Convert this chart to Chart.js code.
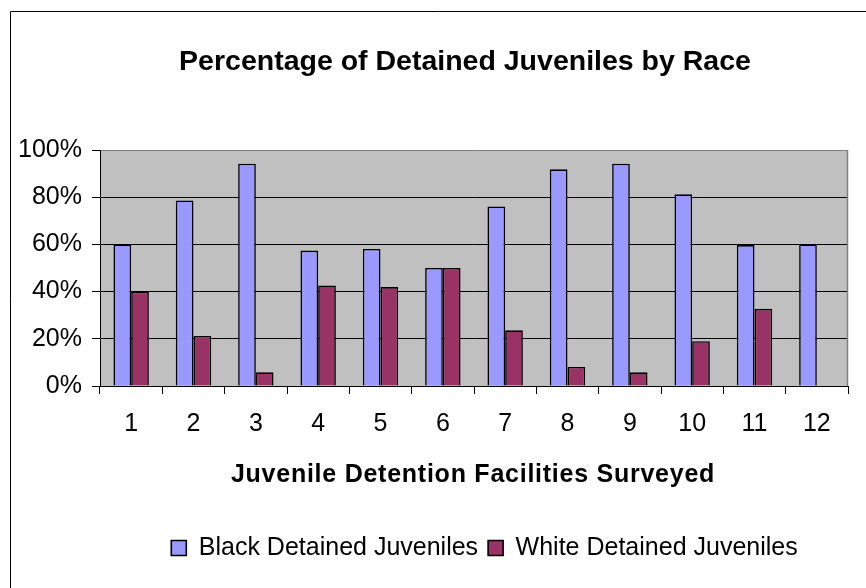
<!DOCTYPE html>
<html>
<head>
<meta charset="utf-8">
<script src="https://cdn.jsdelivr.net/npm/chart.js@4/dist/chart.umd.min.js"></script>
<style>
html,body{margin:0;padding:0;background:#fff;overflow:hidden}
#wrap{width:866px;height:588px;position:relative}
</style>
</head>
<body>
<div id="wrap"><canvas id="c" width="866" height="588"></canvas></div>
<script>
const categories = ['1','2','3','4','5','6','7','8','9','10','11','12'];
const blackValues = [60, 78.6, 94.2, 57.4, 58.1, 50, 76.1, 91.8, 94.2, 81.2, 59.7, 60];
const whiteValues = [40, 21.2, 5.8, 42.6, 41.9, 50, 23.6, 8.1, 5.8, 19.0, 32.7, 0];
const yTickValues = [0, 20, 40, 60, 80, 100];
const seriesNames = ['Black Detained Juveniles', 'White Detained Juveniles'];
const chartTitle = 'Percentage of Detained Juveniles by Race';
const xAxisTitle = 'Juvenile Detention Facilities Surveyed';

const FONT = '"Liberation Sans", Arial, sans-serif';

const excelPlugin = {
  id: 'excelLook',
  afterLayout(chart) {
    const shift = (box, center) => {
      if (!box) return;
      const d = center - (box.left + box.right) / 2;
      box.left += d; box.right += d;
    };
    shift(chart.titleBlock, 465);
    shift(chart.legend, 484.5);
  },
  beforeDraw(chart) {
    const {ctx, chartArea: a} = chart;
    ctx.save();
    ctx.fillStyle = '#ffffff';
    ctx.fillRect(0, 0, chart.width, chart.height);
    ctx.fillStyle = '#C0C0C0';
    ctx.fillRect(a.left, a.top, a.right - a.left, a.bottom - a.top);
    ctx.restore();
  },
  afterDraw(chart) {
    const {ctx, chartArea: a} = chart;
    ctx.save();
    // plot area right border
    ctx.strokeStyle = '#808080';
    ctx.lineWidth = 1.5;
    ctx.beginPath();
    ctx.moveTo(a.right - 0.5, a.top);
    ctx.lineTo(a.right - 0.5, a.bottom);
    ctx.stroke();
    // outer frame
    ctx.strokeStyle = '#000';
    ctx.lineWidth = 1;
    ctx.beginPath();
    ctx.moveTo(10.5, chart.height);
    ctx.lineTo(10.5, 11.5);
    ctx.lineTo(chart.width, 11.5);
    ctx.stroke();
    // x axis title
    ctx.fillStyle = '#000';
    ctx.font = 'bold 25px ' + FONT;
    ctx.letterSpacing = '0.75px';
    ctx.textAlign = 'center';
    ctx.textBaseline = 'alphabetic';
    ctx.fillText(xAxisTitle, (a.left + a.right) / 2 - 1, 481.5);
    ctx.restore();
  }
};

new Chart(document.getElementById('c'), {
  type: 'bar',
  data: {
    labels: categories,
    datasets: [
      {label: seriesNames[0], data: blackValues, backgroundColor: '#9999FF', borderColor: '#000', borderWidth: 1.6,
       categoryPercentage: 0.568, barPercentage: 1.0},
      {label: seriesNames[1], data: whiteValues, backgroundColor: '#993366', borderColor: '#000', borderWidth: 1.6,
       categoryPercentage: 0.568, barPercentage: 1.0}
    ]
  },
  options: {
    responsive: false,
    animation: false,
    devicePixelRatio: 1,
    layout: {padding: {left: 10, right: 18, top: 0, bottom: 17.5}},
    scales: {
      x: {
        offset: true,
        grid: {offset: true, drawOnChartArea: false, drawTicks: true, tickLength: 8, color: '#000', tickColor: '#000', lineWidth: 1},
        border: {display: true, color: '#000', width: 1},
        ticks: {font: {family: FONT, size: 25}, color: '#000', padding: 15, maxRotation: 0, autoSkip: false},
        afterFit: s => { s.height = 139.5; }
      },
      y: {
        min: 0, max: 100,
        afterBuildTicks: s => { s.ticks = yTickValues.map(v => ({value: v})); },
        ticks: {font: {family: FONT, size: 25}, color: '#000', padding: 10, callback: v => v + '%'},
        grid: {color: c => (c.tick && c.tick.value === 100) ? '#808080' : '#000', tickColor: '#000', tickLength: 8, lineWidth: 1},
        border: {display: true, color: '#000', width: 1},
        afterFit: s => { s.width = 90; }
      }
    },
    plugins: {
      title: {display: true, text: chartTitle, color: '#000', font: {family: FONT, size: 28.5, weight: 'bold'}, padding: {top: 44.9, bottom: 70.9}},
      legend: {display: true, position: 'bottom',
        labels: {font: {family: FONT, size: 25}, color: '#000', boxWidth: 15, boxHeight: 15, padding: 10}},
      tooltip: {enabled: false}
    }
  },
  plugins: [excelPlugin]
});
</script>
</body>
</html>
